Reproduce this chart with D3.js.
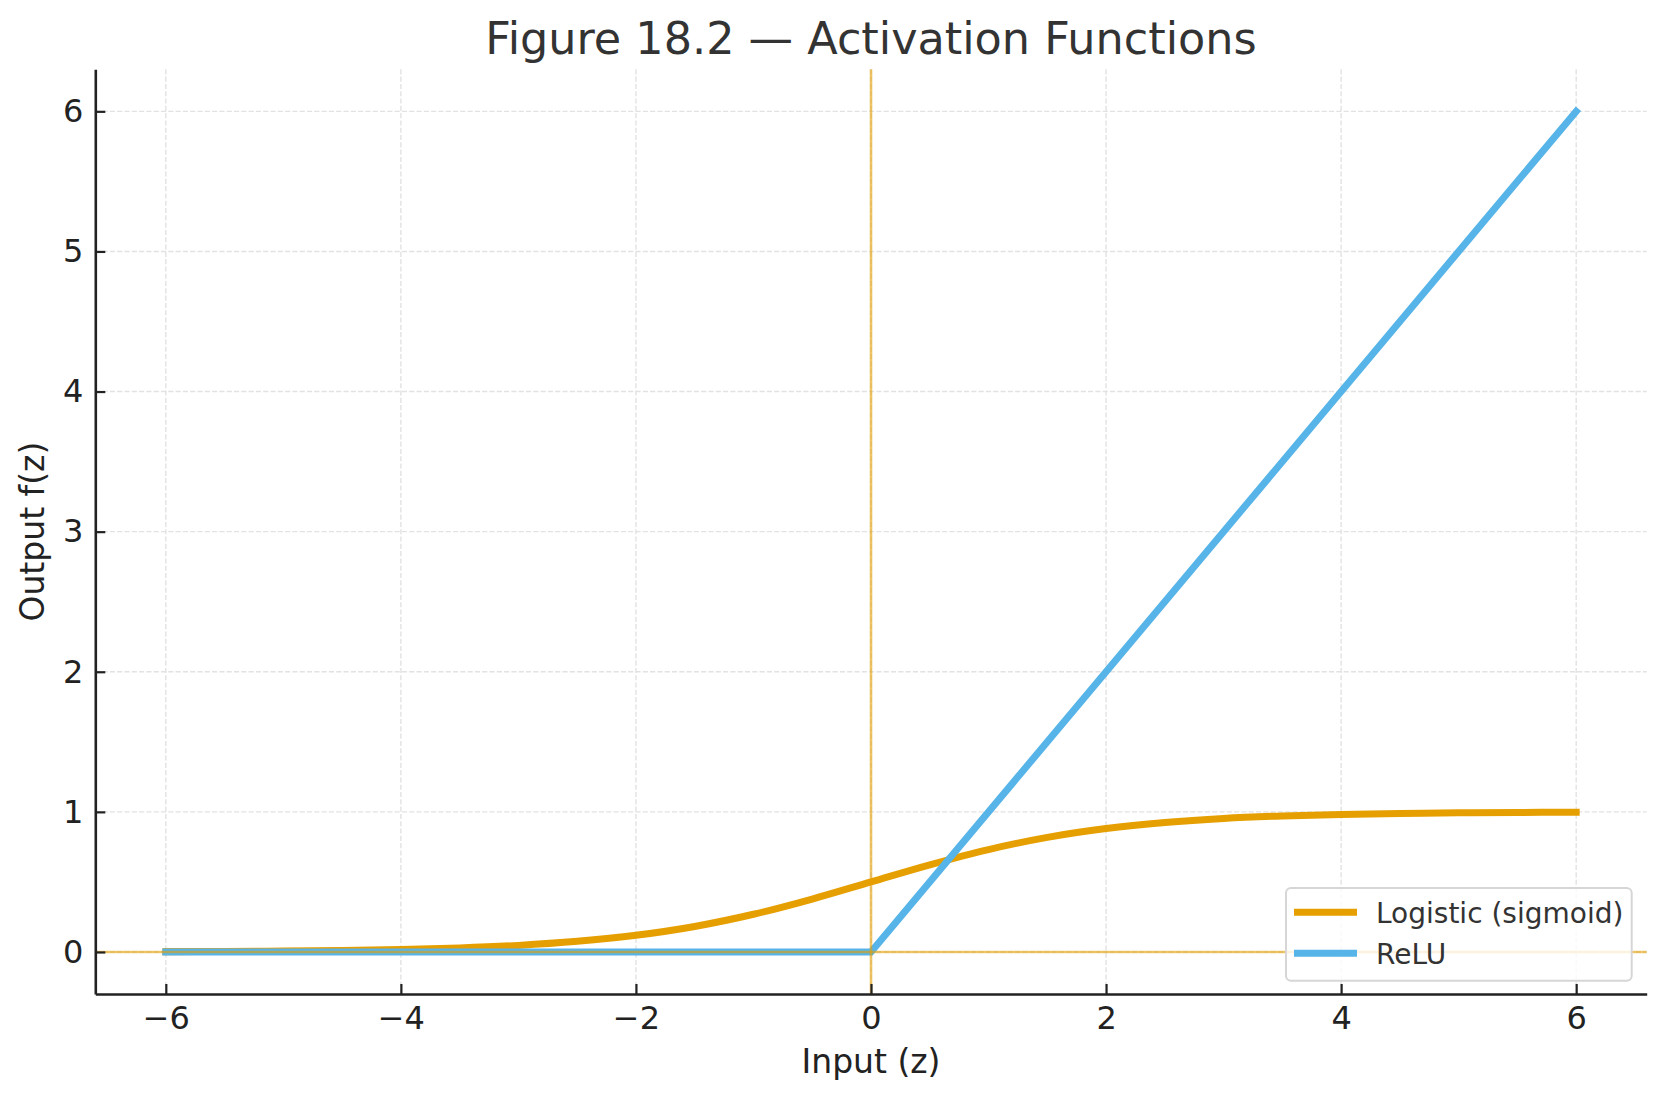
<!DOCTYPE html>
<html>
<head>
<meta charset="utf-8">
<script src="https://cdn.jsdelivr.net/npm/d3@7"></script>
<style>
  html, body { margin: 0; padding: 0; background: #fff; }
  svg { display: block; font-family: "DejaVu Sans", sans-serif; }
</style>
</head>
<body>
<div id="chart"></div>
<script>
// values
var sigX = [-6, -5.5, -5, -4.5, -4, -3.5, -3, -2.5, -2, -1.5, -1, -0.5, 0,
            0.5, 1, 1.5, 2, 2.5, 3, 3.5, 4, 4.5, 5, 5.5, 6];
var sigY = [0.0025, 0.0041, 0.0067, 0.011, 0.018, 0.029, 0.047, 0.076, 0.119, 0.182, 0.269, 0.378, 0.5,
            0.622, 0.731, 0.818, 0.881, 0.924, 0.953, 0.971, 0.982, 0.989, 0.993, 0.996, 0.998];
var reluX = [-6, 0, 6];
var reluY = [0, 0, 6];
var xTicks = [-6, -4, -2, 0, 2, 4, 6];
var yTicks = [0, 1, 2, 3, 4, 5, 6];
var seriesNames = ["Logistic (sigmoid)", "ReLU"];
var seriesColors = ["#E69F00", "#56B4E9"];

var width = 1665,
    height = 1101,
    plotLeft = 95.3, plotRight = 1646.7,
    plotTop = 69.3, plotBottom = 994;

var svg = d3.select("#chart")
    .append("svg")
    .attr("width", width)
    .attr("height", height);

var x = d3.scaleLinear().domain([-6.6, 6.6]).range([plotLeft, plotRight]),
    y = d3.scaleLinear().domain([-0.3, 6.3]).range([plotBottom, plotTop]);

// grid
var grid = svg.append("g")
    .attr("stroke", "#e2e2e2")
    .attr("stroke-width", 1.4)
    .attr("stroke-dasharray", "5.1,2.2");
grid.selectAll("line.gx").data(xTicks).join("line")
    .attr("class", "gx")
    .attr("x1", d => x(d)).attr("x2", d => x(d))
    .attr("y1", plotTop).attr("y2", plotBottom);
grid.selectAll("line.gy").data(yTicks).join("line")
    .attr("class", "gy")
    .attr("x1", plotLeft).attr("x2", plotRight)
    .attr("y1", d => y(d)).attr("y2", d => y(d));

// curves
var sigData = sigX.map((v, i) => [v, sigY[i]]),
    reluData = reluX.map((v, i) => [v, reluY[i]]);

svg.append("path")
    .datum(sigData)
    .attr("fill", "none")
    .attr("stroke", seriesColors[0])
    .attr("stroke-width", 7)
    .attr("stroke-linecap", "square")
    .attr("d", d3.line().x(d => x(d[0])).y(d => y(d[1])).curve(d3.curveCatmullRom));

svg.append("path")
    .datum(reluData)
    .attr("fill", "none")
    .attr("stroke", seriesColors[1])
    .attr("stroke-width", 7)
    .attr("stroke-linecap", "square")
    .attr("d", d3.line().x(d => x(d[0])).y(d => y(d[1])));

// reference lines at x=0, y=0
svg.append("line")
    .attr("x1", plotLeft).attr("x2", plotRight)
    .attr("y1", y(0)).attr("y2", y(0))
    .attr("stroke", "#E69F00").attr("stroke-opacity", 0.6)
    .attr("stroke-width", 2.6);
svg.append("line")
    .attr("x1", x(0)).attr("x2", x(0))
    .attr("y1", plotTop).attr("y2", plotBottom)
    .attr("stroke", "#E69F00").attr("stroke-opacity", 0.6)
    .attr("stroke-width", 2.6);

// axes
var xAxis = d3.axisBottom(x).tickValues(xTicks).tickFormat(d3.format("d"))
        .tickSize(-10).tickSizeOuter(0).tickPadding(12),
    yAxis = d3.axisLeft(y).tickValues(yTicks).tickFormat(d3.format("d"))
        .tickSize(-10).tickSizeOuter(0).tickPadding(12);

var gx = svg.append("g")
    .attr("transform", "translate(0," + plotBottom + ")")
    .call(xAxis);
var gy = svg.append("g")
    .attr("transform", "translate(" + plotLeft + ",0)")
    .call(yAxis);

[gx, gy].forEach(g => {
    g.select(".domain").attr("stroke", "#222").attr("stroke-width", 2.6);
    g.selectAll(".tick line").attr("stroke", "#222").attr("stroke-width", 2.2);
    g.selectAll(".tick text")
        .attr("fill", "#222")
        .style("font-size", "32px")
        .style("font-family", "DejaVu Sans");
});

// labels
svg.append("text")
    .attr("x", (plotLeft + plotRight) / 2).attr("y", 54.3)
    .attr("text-anchor", "middle")
    .attr("fill", "#333")
    .style("font-size", "44.5px")
    .text("Figure 18.2 \u2014 Activation Functions");

svg.append("text")
    .attr("x", (plotLeft + plotRight) / 2).attr("y", 1073.3)
    .attr("text-anchor", "middle")
    .attr("fill", "#222")
    .style("font-size", "33px")
    .text("Input (z)");

svg.append("text")
    .attr("transform", "translate(44," + ((plotTop + plotBottom) / 2) + ") rotate(-90)")
    .attr("text-anchor", "middle")
    .attr("fill", "#222")
    .style("font-size", "33px")
    .text("Output f(z)");

// legend
var legend = svg.append("g");
legend.append("rect")
    .attr("x", 1286).attr("y", 888)
    .attr("width", 345.7).attr("height", 92.7)
    .attr("rx", 5)
    .attr("fill", "#fff").attr("fill-opacity", 0.8)
    .attr("stroke", "#d6d6d6").attr("stroke-width", 2);

var items = legend.selectAll("g.item").data(seriesNames).join("g")
    .attr("class", "item")
    .attr("transform", (d, i) => "translate(0," + (912.3 + i * 41) + ")");
items.append("line")
    .attr("x1", 1294).attr("x2", 1357)
    .attr("stroke", (d, i) => seriesColors[i])
    .attr("stroke-width", 7);
items.append("text")
    .attr("x", 1376).attr("y", 10.5)
    .attr("fill", "#333")
    .style("font-size", "28px")
    .text(d => d);
</script>
</body>
</html>
